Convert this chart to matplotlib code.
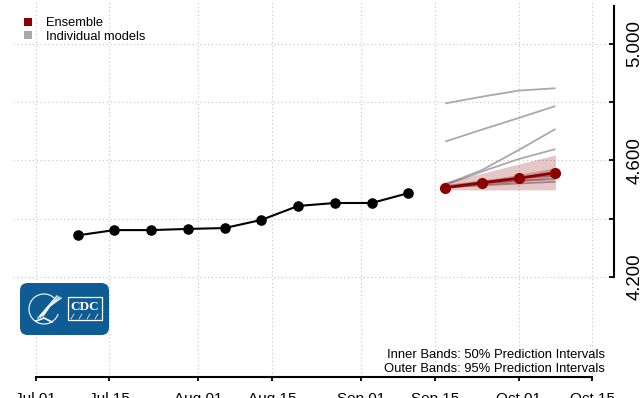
import matplotlib
matplotlib.use("Agg")
import matplotlib.pyplot as plt
import matplotlib.dates as mdates
import datetime as dt
from matplotlib.patches import FancyBboxPatch, Rectangle, Arc

plt.rcParams['font.family'] = ['Liberation Sans', 'DejaVu Sans']

# ---------------- data ----------------
obs_dates = ['2022-07-09', '2022-07-16', '2022-07-23', '2022-07-30', '2022-08-06',
             '2022-08-13', '2022-08-20', '2022-08-27', '2022-09-03', '2022-09-10']
obs_values = [4343, 4361, 4361, 4365, 4368, 4396, 4444, 4454, 4454, 4488]

fc_dates = ['2022-09-17', '2022-09-24', '2022-10-01', '2022-10-08']
ens_median = [4507, 4523, 4539, 4558]
ens_lo95 = [4499, 4499, 4499, 4499]
ens_hi95 = [4527, 4556, 4588, 4619]
ens_lo50 = [4504, 4515, 4527, 4541]
ens_hi50 = [4511, 4531, 4552, 4575]

model_a = [4796, 4819, 4840, 4848]
model_b = [4665, 4706, 4746, 4787]
model_c = [4518, 4567, 4636, 4708]
model_d = [4516, 4562, 4605, 4639]
model_e = [4512, 4528, 4540, 4548]
model_f = [4510, 4522, 4530, 4536]
model_g = [4508, 4515, 4521, 4527]
models = [model_a, model_b, model_c, model_d, model_e, model_f, model_g]

xtick_dates = ['2022-07-01', '2022-07-15', '2022-08-01', '2022-08-15',
               '2022-09-01', '2022-09-15', '2022-10-01', '2022-10-15']
xtick_labels = ['Jul 01', 'Jul 15', 'Aug 01', 'Aug 15', 'Sep 01', 'Sep 15', 'Oct 01', 'Oct 15']
ytick_values = [4200, 4400, 4600, 4800, 5000]
ytick_labels = ['4.200', '', '4.600', '', '5.000']

legend_labels = ['Ensemble', 'Individual models']
note_lines = ['Inner Bands: 50% Prediction Intervals', 'Outer Bands: 95% Prediction Intervals']

# ---------------- helpers ----------------
def d(s):
    return mdates.date2num(dt.datetime.strptime(s, '%Y-%m-%d'))

W, H = 641, 398
def fx(px):
    return px / W
def fy(py):
    return 1 - py / H

ENS = '#8B0000'
GRAY = '#A9A9A9'

fig = plt.figure(figsize=(W / 100, H / 100), dpi=100)
ax = fig.add_axes([fx(13), fy(377), (614 - 13) / W, 377 / H])

ox = [d(s) for s in obs_dates]
fxs = [d(s) for s in fc_dates]

# individual models
for m in models:
    ax.plot(fxs, m, color=GRAY, lw=1.3, zorder=2, solid_capstyle='butt')

# bands
ax.fill_between(fxs, ens_lo95, ens_hi95, color=ENS, alpha=0.22, lw=0, zorder=3)
ax.fill_between(fxs, ens_lo50, ens_hi50, color=ENS, alpha=0.25, lw=0, zorder=3)

# ensemble
ax.plot(fxs, ens_median, color=ENS, lw=2.0, marker='o', ms=7, zorder=5)

# observed
ax.plot(ox, obs_values, color='black', lw=1.5, marker='o', ms=6.6, zorder=5)

# axes limits
x0 = d('2022-07-01')
ax.set_xlim(x0 - 4.32, x0 + 110.15)
ax.set_ylim(3856.6, 5151)

ax.set_xticks([d(s) for s in xtick_dates])
ax.set_xticklabels(xtick_labels)
ax.set_yticks(ytick_values)
ax.set_yticklabels(ytick_labels)

ax.yaxis.tick_right()
ax.spines['left'].set_visible(False)
ax.spines['top'].set_visible(False)
ax.spines['bottom'].set_bounds(d('2022-07-01'), d('2022-10-15'))
ax.spines['right'].set_bounds(4200, 5130)
for s in ['bottom', 'right']:
    ax.spines[s].set_linewidth(1.5)
    ax.spines[s].set_color('black')

ax.tick_params(axis='x', direction='out', length=3, width=1.3, pad=7.5, labelsize=11)
ax.tick_params(axis='y', direction='in', length=3.5, width=1.3, pad=9, labelsize=13.4,
               labelrotation=90)
for lab in ax.get_yticklabels():
    lab.set_va('center')
    lab.set_ha('left')

ax.grid(True, linestyle=(0, (1, 2.5)), color='#c4c4c4', lw=0.8, zorder=0)
ax.set_axisbelow(True)

# legend (manual)
fig.patches.append(Rectangle((fx(24), fy(25.5)), 8 / W, 7 / H, transform=fig.transFigure,
                             facecolor=ENS, edgecolor='none'))
fig.patches.append(Rectangle((fx(24), fy(38.5)), 8 / W, 7 / H, transform=fig.transFigure,
                             facecolor=GRAY, edgecolor='none'))
fig.text(fx(46), fy(26.5), legend_labels[0], fontsize=9.3, va='baseline', ha='left')
fig.text(fx(46), fy(39.5), legend_labels[1], fontsize=9.3, va='baseline', ha='left')

# notes
fig.text(fx(605), fy(358), note_lines[0], fontsize=9.4, ha='right', va='baseline')
fig.text(fx(605), fy(371.5), note_lines[1], fontsize=9.4, ha='right', va='baseline')

# CDC logo (drawn)
BLUE = '#0f5c94'
logo = FancyBboxPatch((fx(20), fy(335)), (109 - 20) / W, (335 - 283) / H,
                      boxstyle='round,pad=0,rounding_size=0.012',
                      transform=fig.transFigure, facecolor=BLUE, edgecolor='none',
                      mutation_aspect=W / H)
fig.patches.append(logo)
arc = Arc((fx(44), fy(309)), 30 / W, 30 / H, theta1=60, theta2=330,
          transform=fig.transFigure, color='white', lw=0.8)
fig.patches.append(arc)
for k in range(3):
    fig.lines.append(plt.Line2D([fx(38 + k * 2.5), fx(45 + k * 2.5), fx(57 + k * 2)],
                                [fy(318 - k), fy(310 - k * 2), fy(296 + k)],
                                transform=fig.transFigure, color='white', lw=1.0))
fig.lines.append(plt.Line2D([fx(36), fx(44), fx(52)], [fy(321), fy(318), fy(322)],
                            transform=fig.transFigure, color='white', lw=1.2))
fig.patches.append(Rectangle((fx(68), fy(320)), (102 - 68) / W, (320 - 297) / H,
                             transform=fig.transFigure, facecolor='none',
                             edgecolor='white', lw=0.9))
fig.text(fx(85), fy(307), 'CDC', color='white', fontsize=9.5, fontweight='bold',
         ha='center', va='center', family=['Liberation Serif', 'DejaVu Serif'])
for k in range(4):
    fig.lines.append(plt.Line2D([fx(71 + k * 8), fx(74 + k * 8)], [fy(319), fy(314)],
                                transform=fig.transFigure, color='white', lw=0.5))

fig.savefig('out.png', dpi=100)
